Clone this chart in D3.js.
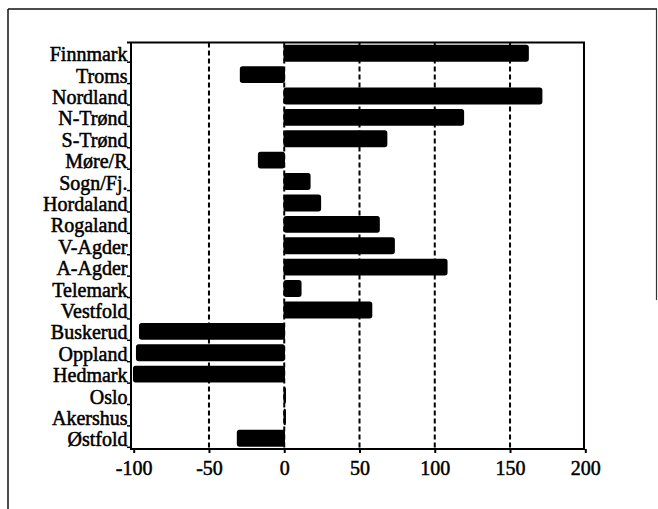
<!DOCTYPE html>
<html><head><meta charset="utf-8">
<script src="https://cdn.jsdelivr.net/npm/d3@7"></script>
<style>
html,body{margin:0;padding:0;background:#fff;}
svg{display:block;}
</style></head>
<body>
<svg id="chart" width="658" height="509"></svg>
<script>
const categories = ["Finnmark","Troms","Nordland","N-Trønd","S-Trønd","Møre/R","Sogn/Fj.","Hordaland","Rogaland","V-Agder","A-Agder","Telemark","Vestfold","Buskerud","Oppland","Hedmark","Oslo","Akershus","Østfold"];
const values = [162, -29, 171, 119, 68, -17, 17, 24, 63, 73, 108, 11, 58, -96, -98, -100, 0, 0, -31];
const xTicks = [-100, -50, 0, 50, 100, 150, 200];
const gridValues = [-50, 0, 50, 100, 150];

const svg = d3.select("#chart");
const font = "'Liberation Serif','Times New Roman',Times,serif";

const plot = {left: 131, top: 42.5, right: 584, bottom: 449};
const x = d3.scaleLinear().domain([-100, 200]).range([133.7, 585.3]);
const y = d3.scaleBand().domain(categories).range([plot.top, plot.bottom]).paddingInner(0.28).paddingOuter(0.14);

// outer frame
svg.append("line").attr("x1", 8).attr("x2", 657).attr("y1", 9).attr("y2", 9).attr("stroke", "#111").attr("stroke-width", 1.5);
svg.append("line").attr("x1", 8).attr("x2", 8).attr("y1", 9).attr("y2", 509).attr("stroke", "#111").attr("stroke-width", 1.5);
svg.append("line").attr("x1", 656.5).attr("x2", 656.5).attr("y1", 9).attr("y2", 300).attr("stroke", "#333").attr("stroke-width", 1.2);

// gridlines
svg.append("g").selectAll("line").data(gridValues).join("line")
  .attr("x1", d => x(d)).attr("x2", d => x(d))
  .attr("y1", plot.top).attr("y2", plot.bottom)
  .attr("stroke", "#000").attr("stroke-width", 2)
  .attr("stroke-dasharray", "5,3");

// bars (zero values still show as a thin bar outline at 0)
svg.append("g").selectAll("rect").data(categories).join("rect")
  .attr("x", (d, i) => Math.min(x(0), x(values[i])))
  .attr("width", (d, i) => Math.max(1, Math.abs(x(values[i]) - x(0))))
  .attr("y", d => y(d))
  .attr("height", y.bandwidth())
  .attr("rx", 2)
  .attr("fill", "#000")
  .attr("stroke", "#000").attr("stroke-width", 1.5);

// plot border
svg.append("path")
  .attr("d", `M${plot.left - 4},${plot.top} H${plot.right} V${plot.bottom} H${plot.left} V${plot.top}`)
  .attr("fill", "none").attr("stroke", "#000").attr("stroke-width", 2);

// x axis
const xAxis = svg.append("g").attr("transform", `translate(0,${plot.bottom})`)
  .call(d3.axisBottom(x).tickValues(xTicks).tickSize(4).tickPadding(12).tickFormat(d => d));
xAxis.select(".domain").remove();
xAxis.selectAll(".tick line").attr("stroke", "#000").attr("stroke-width", 2);
xAxis.selectAll(".tick text").attr("font-family", font).attr("font-size", 20).attr("fill", "#000")
  .attr("stroke", "#000").attr("stroke-width", 0.5)
  .attr("dy", 0).attr("y", 26);

// y axis
const yAxis = svg.append("g").attr("transform", `translate(${plot.left},0)`)
  .call(d3.axisLeft(y).tickSize(4).tickPadding(4));
yAxis.select(".domain").remove();
yAxis.selectAll(".tick line").attr("stroke", "#000").attr("stroke-width", 1.5)
  .attr("y1", 9).attr("y2", 9);
yAxis.selectAll(".tick text").attr("font-family", font).attr("font-size", 20).attr("fill", "#000")
  .attr("stroke", "#000").attr("stroke-width", 0.5)
  .attr("dy", 0).attr("y", 8).attr("x", -3.5);
</script>
</body></html>
